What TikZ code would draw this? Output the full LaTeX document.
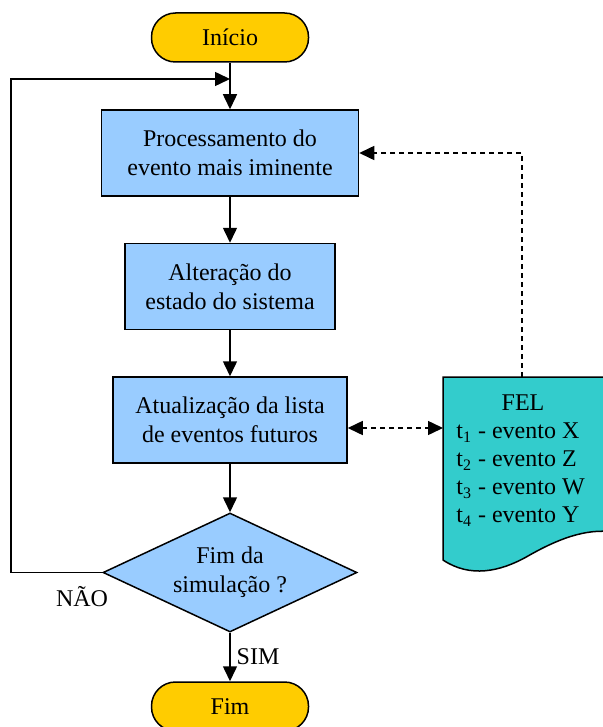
\documentclass[tikz,border=0pt]{standalone}
\usepackage{fontspec}
\setmainfont{Liberation Serif}
\usetikzlibrary{shapes.geometric,arrows.meta,positioning}
\definecolor{BoxBlue}{RGB}{153,204,255}
\definecolor{TermYellow}{RGB}{255,204,0}
\definecolor{FelTeal}{RGB}{51,204,204}

\begin{document}
\begin{tikzpicture}[x=0.5pt, y=-0.5pt, line width=0.75pt,
  font=\fontsize{12}{14.5}\selectfont,
  terminal/.style={draw, fill=TermYellow, rounded corners=12pt, minimum width=78.5pt, minimum height=24.5pt},
  process/.style={draw, fill=BoxBlue, align=center, minimum height=43pt},
  decision/.style={draw, fill=BoxBlue, diamond, aspect=2.13, inner sep=0pt, align=center, minimum width=127pt, minimum height=59.5pt},
  flow/.style={-{Triangle[length=7.5pt, width=7pt]}},
  dashflow/.style={flow, dash pattern=on 2.5pt off 2pt}]
  \useasboundingbox (0,0) rectangle (603,727);

  % Flow nodes
  \node[terminal] (start) at (230,37.5) {Início};
  \node[process, minimum width=128.5pt] (proc) at (230,153) {Processamento do\\evento mais iminente};
  \node[process, minimum width=105pt] (state) at (230,286.5) {Alteração do\\estado do sistema};
  \node[process, minimum width=117pt] (update) at (230,420) {Atualização da lista\\de eventos futuros};
  \node[decision] (endsim) at (230,572.5) {Fim da\\simulação ?};
  \node[terminal] (stop) at (230,706.5) {Fim};

  % FEL document
  \fill[FelTeal] (443,377) -- (613,377) -- (613,532)
    .. controls (585,528) and (556,540) .. (528,556)
    .. controls (500,572) and (470,578) .. (443,560) -- cycle;
  \draw (613,377) -- (443,377) -- (443,560)
    .. controls (470,578) and (500,572) .. (528,556)
    .. controls (556,540) and (585,528) .. (613,532);
  \node (feltitle) at (523,403) {FEL};
  \node[align=left, anchor=west, font=\fontsize{12}{14}\selectfont] (fellist) at (449,474.5)
    {t\textsubscript{1} - evento X\\t\textsubscript{2} - evento Z\\t\textsubscript{3} - evento W\\t\textsubscript{4} - evento Y};
  \coordinate (feltop) at (522,377);
  \coordinate (felin) at (443,428);

  % Main flow
  \coordinate (merge) at (230,79);
  \coordinate (back) at (11,79);
  \draw[flow] (start) -- (proc);
  \draw[flow] (proc) -- (state);
  \draw[flow] (state) -- (update);
  \draw[flow] (update) -- (endsim);
  \draw[flow] (endsim) -- (stop);
  \draw[flow] (endsim.west) -| (back) -- (merge);

  % Event list links
  \draw[dashflow] (feltop) |- (proc.east);
  \draw[dashflow, {Triangle[length=7.5pt, width=7pt]}-{Triangle[length=7.5pt, width=7pt]}] (felin -| update.east) -- (felin);

  % Labels
  \node (no) at (82,597) {NÃO};
  \node (yes) at (258,657) {SIM};
\end{tikzpicture}
\end{document}
